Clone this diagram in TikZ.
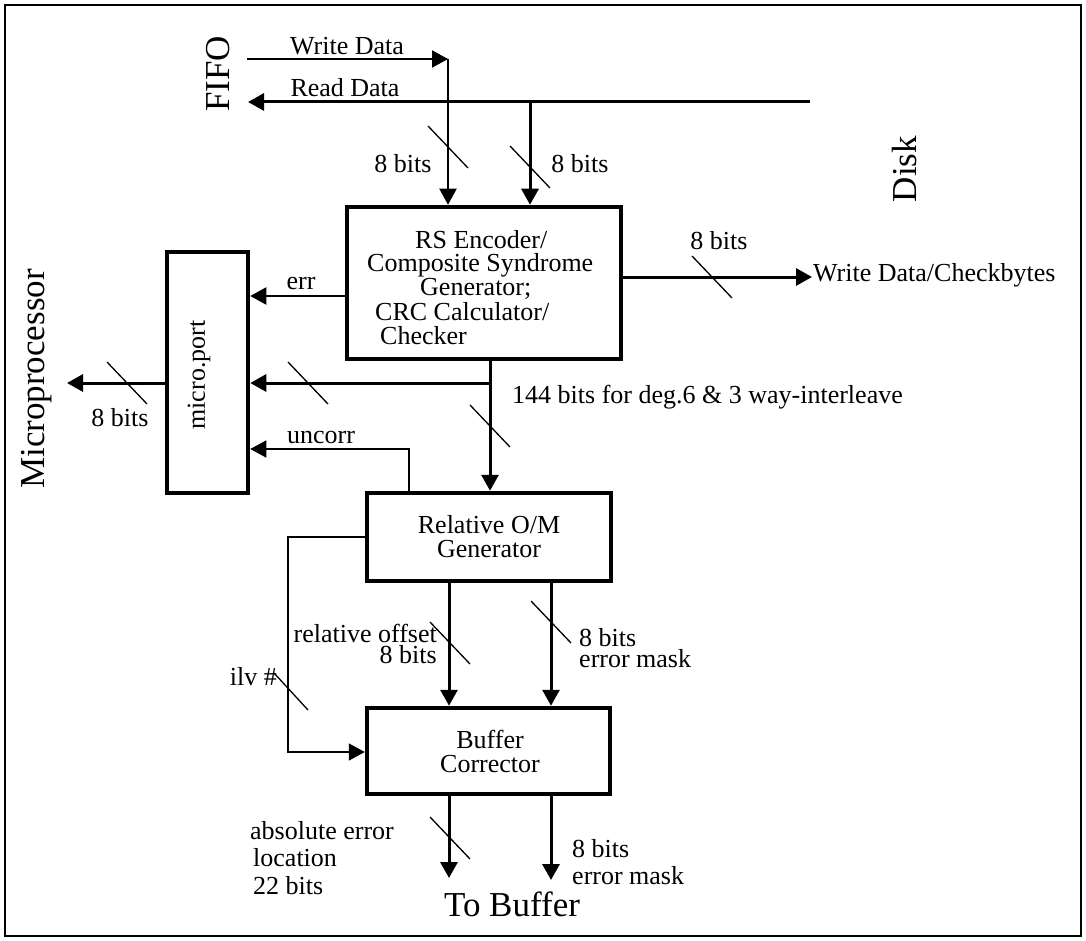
\documentclass[tikz,border=0pt]{standalone}
\usepackage{fontspec}
\setmainfont{Liberation Serif}
\usetikzlibrary{arrows.meta,calc}
\tikzset{
  blk/.style={draw, line width=4.5pt, inner sep=0pt},
  tarr/.style={line width=3pt, -{Triangle[length=16pt,width=17pt]}},
  marr/.style={line width=2pt, -{Triangle[length=16pt,width=17pt]}},
  narr/.style={line width=1.5pt, -{Triangle[length=16pt,width=17pt]}},
  tline/.style={line width=3pt},
  nline/.style={line width=1.5pt},
  slashln/.style={line width=1.3pt},
  lbl/.style={font=\fontsize{26}{24}\selectfont, inner sep=0pt},
  big/.style={font=\fontsize{35}{40}\selectfont, inner sep=0pt},
}
\newcommand{\busslash}[1]{\draw[slashln] (#1) ++(-20,-21) -- ++(40,42);}
\begin{document}
\begin{tikzpicture}[x=1pt,y=-1pt]
\useasboundingbox (0,0) rectangle (1086,941);
\draw[line width=1.5pt] (5,5) rectangle (1081,936);

% blocks
\node[blk, minimum width=274pt, minimum height=152pt] (enc) at (484,283) {};
\node[blk, minimum width=81pt, minimum height=241pt] (micro) at (207.5,372.5) {};
\node[blk, minimum width=244pt, minimum height=88pt] (rel) at (489,537) {};
\node[blk, minimum width=243pt, minimum height=86pt] (buf) at (488.5,751) {};

% block texts
\node[lbl, anchor=base west] (e1) at (415,248) {RS Encoder/};
\node[lbl, anchor=base west] (e2) at (367,271) {Composite Syndrome};
\node[lbl, anchor=base west] (e3) at (420,295) {Generator;};
\node[lbl, anchor=base west] (e4) at (375,320) {CRC Calculator/};
\node[lbl, anchor=base west] (e5) at (380,344) {Checker};
\node[lbl, rotate=90] (mtxt) at (199,375) {micro.port};
\node[lbl, align=center] (reltxt) at (489,537) {Relative O/M\\Generator};
\node[lbl, align=center] (buftxt) at (490,751) {Buffer\\Corrector};

% big labels
\node[big, rotate=90] (fifo) at (218,74) {FIFO};
\node[big, rotate=90] (disk) at (905,169) {Disk};
\node[big, rotate=90] (mp) at (37,379) {Microprocessor};
\node[big] (tobuf) at (512,904) {To Buffer};

% coordinates
\coordinate (wd0) at (247,59);
\coordinate (wdc) at (448,59);
\coordinate (rd0) at (810,102);
\coordinate (rd1) at (248,102);
\coordinate (rdb) at (530,102);
\coordinate (wout) at (812,277);
\coordinate (busb) at (490,383);
\coordinate (uc) at (409,449);
\coordinate (mpo) at (67,383);
\coordinate (ilv1) at (288,537);
\coordinate (ilv2) at (288,752);
\coordinate (o1) at (449,878);
\coordinate (o2) at (551,880);

% FIFO / Disk lines
\draw[marr] (wd0) -- (wdc);
\node[lbl] (wdl) at (347,46) {Write Data};
\draw[tarr] (rd0) -- (rd1);
\node[lbl] (rdl) at (345,88) {Read Data};
\draw[marr] (wdc) -- (wdc |- enc.north);
\draw[tarr] (rdb) -- (rdb |- enc.north);
\busslash{448,147}
\busslash{530,167}
\node[lbl] (b1) at (403,164) {8 bits};
\node[lbl] (b2) at (580,164) {8 bits};

% output
\draw[tarr] (enc.east |- wout) -- (wout);
\busslash{712,277}
\node[lbl] (b3) at (719,241) {8 bits};
\node[lbl, anchor=west] (wdcb) at (813,275) {Write Data/Checkbytes};

% err
\draw[marr] (enc.west |- 0,296) -- (micro.east |- 0,296);
\node[lbl] (errl) at (301,284) {err};

% bus
\draw[tarr] (enc.south -| busb) -- (rel.north -| busb);
\draw[tarr] (busb) -- (micro.east |- busb);
\busslash{308,383}
\busslash{490,426}
\node[lbl, anchor=west] (b144) at (512,397) {144 bits for deg.6 \& 3 way-interleave};

% uncorr
\draw[narr] (rel.north -| uc) -- (uc) -- (micro.east |- uc);
\node[lbl] (ucl) at (321,437) {uncorr};

% micro to microprocessor
\draw[tarr] (micro.west |- mpo) -- (mpo);
\busslash{127,383}
\node[lbl] (b4) at (120,418) {8 bits};

% rel to buf
\draw[tarr] (rel.south -| 449,0) -- (buf.north -| 449,0);
\draw[tarr] (rel.south -| 551,0) -- (buf.north -| 551,0);
\busslash{450,643}
\busslash{551,622}
\node[lbl, align=right, anchor=east, font=\fontsize{26}{21}\selectfont] (rol) at (437,644) {relative offset\\8 bits};
\node[lbl, align=left, anchor=west, font=\fontsize{26}{21}\selectfont] (eml) at (579,648) {8 bits\\error mask};

% ilv
\draw[narr] (rel.west |- ilv1) -- (ilv1) -- (ilv2) -- (buf.west |- ilv2);
\draw[slashln] (291,691) ++(-17,-18) -- ++(34,37);
\node[lbl, anchor=east] (ilvl) at (277,677) {ilv \#};

% outputs
\draw[tarr] (buf.south -| o1) -- (o1);
\draw[tarr] (buf.south -| o2) -- (o2);
\busslash{450,838}
\node[lbl, align=left, anchor=west, font=\fontsize{26}{27.5}\selectfont] (ael) at (250,858) {absolute error\\\hspace*{3pt}location\\\hspace*{3pt}22 bits};
\node[lbl, align=left, anchor=west, font=\fontsize{26}{27}\selectfont] (em2) at (572,862) {8 bits\\error mask};
\end{tikzpicture}
\end{document}
